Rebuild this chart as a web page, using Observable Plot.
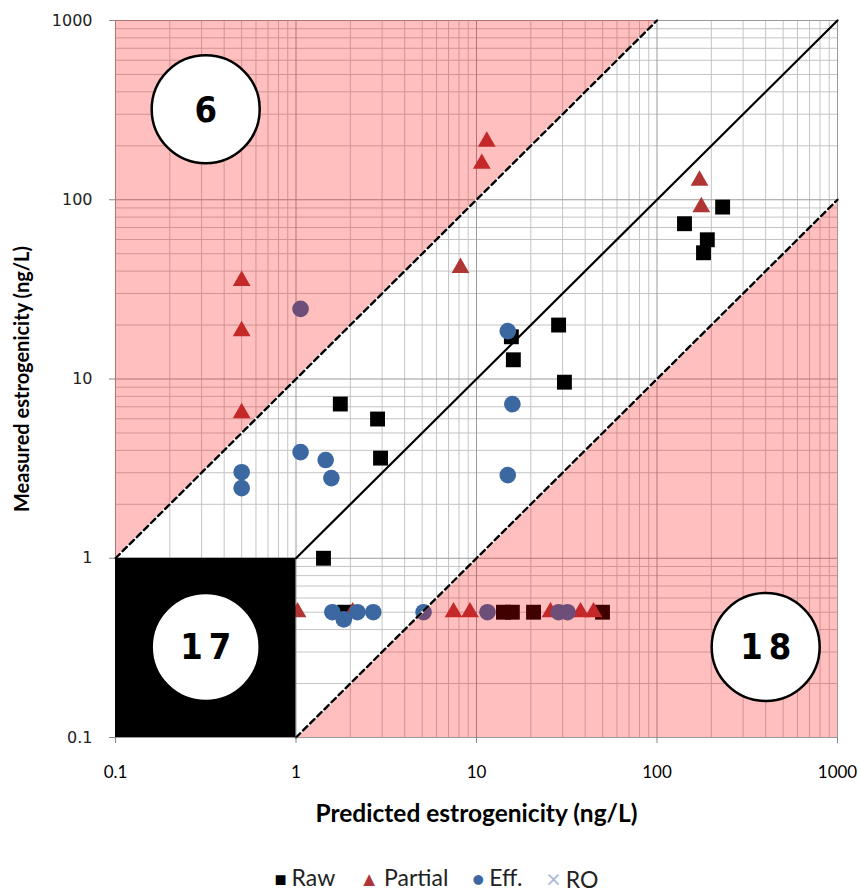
<!DOCTYPE html>
<html>
<head>
<meta charset="utf-8">
<script src="https://cdn.jsdelivr.net/npm/d3@7"></script>
<script src="https://cdn.jsdelivr.net/npm/@observablehq/plot@0.6"></script>
<style>
  body { margin: 0; background: white; }
  #legend { display: flex; justify-content: center; gap: 24px; font-family: Lato, "Open Sans", sans-serif; font-size: 23px; color: #222; padding-left: 12px; margin-top: 8px; }
  #legend span.sym { margin-right: 5px; }
</style>
</head>
<body>
<div id="chart"></div>
<div id="legend"></div>
<script>
// ---- Data ----
const rawX = [1.42, 1.76, 2.83, 2.94, 15.6, 16.0, 28.5, 30.7, 142, 231, 190, 181, 1.86, 14.1, 15.8, 20.7, 49.9];
const rawY = [1.0, 7.25, 5.98, 3.62, 17.2, 12.8, 20.0, 9.6, 73.5, 91, 59.8, 50.6, 0.5, 0.5, 0.5, 0.5, 0.5];

const partialX = [0.5, 0.5, 0.5, 11.4, 10.7, 8.15, 172, 176, 1.02, 2.06, 7.46, 9.2, 25.7, 37.7, 44.5];
const partialY = [35.3, 18.5, 6.46, 211, 159, 41.7, 128, 91, 0.5, 0.5, 0.5, 0.5, 0.5, 0.5, 0.5];

const effX = [1.06, 0.5, 0.5, 1.06, 1.46, 1.57, 14.9, 15.8, 14.9, 1.59, 1.84, 2.19, 2.68, 5.09, 11.5, 28.5, 31.9];
const effY = [24.6, 3.02, 2.46, 3.91, 3.53, 2.80, 18.5, 7.24, 2.91, 0.5, 0.456, 0.5, 0.5, 0.5, 0.5, 0.5, 0.5];

const roX = [];
const roY = [];

const seriesNames = ["Raw", "Partial", "Eff.", "RO"];
const seriesColors = ["#000000", "#b03636", "#3c68a2", "#a9bbd6"];

const countLabels = ["6", "17", "18"];
const countX = [0.316, 0.316, 400];
const countY = [320, 0.32, 0.32];

const tickValues = [0.1, 1, 10, 100, 1000];
const axisDomain = [0.1, 1000];
const foldBand = 10;       // dashed lines at measured = 10x and x/10 predicted
const loqValue = 1;        // black square: both below 1 ng/L

// ---- Derived tables ----
const toRows = (xs, ys) => xs.map((x, i) => ({x, y: ys[i]}));
const raw = toRows(rawX, rawY);
const partial = toRows(partialX, partialY);
const eff = toRows(effX, effY);
const ro = toRows(roX, roY);

const minorGrid = [];
for (let e = -1; e <= 2; e++) for (let m = 2; m <= 9; m++) minorGrid.push(m * Math.pow(10, e));

const [lo, hi] = axisDomain;
const upperRegion = [{x: lo, y1: lo * foldBand, y2: hi}, {x: hi / foldBand, y1: hi, y2: hi}];
const lowerRegion = [{x: lo * foldBand, y1: lo, y2: lo}, {x: hi, y1: lo, y2: hi / foldBand}];
const oneToOne = [{x: loqValue, y: loqValue}, {x: hi, y: hi}];
const upperDash = [{x: lo, y: lo * foldBand}, {x: hi / foldBand, y: hi}];
const lowerDash = [{x: lo * foldBand, y: lo}, {x: hi, y: hi / foldBand}];
const loqBox = [{x1: lo, x2: loqValue, y1: lo, y2: loqValue}];
const counts = countLabels.map((t, i) => ({t, x: countX[i], y: countY[i]}));

const chart = Plot.plot({
  width: 861,
  height: 855,
  marginLeft: 115,
  marginRight: 24,
  marginTop: 20,
  marginBottom: 118,
  x: {type: "log", domain: axisDomain},
  y: {type: "log", domain: axisDomain},
  style: {background: "white"},
  marks: [
    // grid
    Plot.ruleX(minorGrid, {stroke: "#c4c4c4", strokeWidth: 1}),
    Plot.ruleY(minorGrid, {stroke: "#c4c4c4", strokeWidth: 1}),
    Plot.ruleX(tickValues, {stroke: "#9a9a9a", strokeWidth: 1}),
    Plot.ruleY(tickValues, {stroke: "#9a9a9a", strokeWidth: 1}),
    // points
    Plot.dot(raw, {x: "x", y: "y", symbol: "square", r: 8.4, fill: seriesColors[0]}),
    Plot.dot(partial, {x: "x", y: "y", symbol: "triangle", r: 6.6, fill: seriesColors[1]}),
    Plot.dot(eff, {x: "x", y: "y", symbol: "circle", r: 8.3, fill: seriesColors[2]}),
    Plot.dot(ro, {x: "x", y: "y", symbol: "times", r: 6, stroke: seriesColors[3], strokeWidth: 1.5}),
    // translucent pink regions drawn over the points
    Plot.areaY(upperRegion, {x: "x", y1: "y1", y2: "y2", fill: "#ff0000", fillOpacity: 0.25}),
    Plot.areaY(lowerRegion, {x: "x", y1: "y1", y2: "y2", fill: "#ff0000", fillOpacity: 0.25}),
    // lines
    Plot.line(oneToOne, {x: "x", y: "y", stroke: "black", strokeWidth: 2.2}),
    Plot.line(upperDash, {x: "x", y: "y", stroke: "white", strokeWidth: 2.4}),
    Plot.line(upperDash, {x: "x", y: "y", stroke: "black", strokeWidth: 2.4, strokeDasharray: "6,4"}),
    Plot.line(lowerDash, {x: "x", y: "y", stroke: "white", strokeWidth: 2.4}),
    Plot.line(lowerDash, {x: "x", y: "y", stroke: "black", strokeWidth: 2.4, strokeDasharray: "6,4"}),
    // black LOQ square
    Plot.rect(loqBox, {x1: "x1", x2: "x2", y1: "y1", y2: "y2", fill: "black"}),
    // axes
    Plot.axisX(tickValues, {tickFormat: d => String(d), tickSize: 6, tickPadding: 22, stroke: "#888", fill: "black",
      fontSize: 17, fontFamily: "Lato, 'Open Sans', sans-serif", label: null}),
    Plot.axisY(tickValues, {tickFormat: d => String(d), tickSize: 6, tickPadding: 17, stroke: "#888", fill: "#222",
      fontSize: 16, fontFamily: "'DejaVu Sans', Verdana, sans-serif", label: null}),
    Plot.text(["Predicted estrogenicity (ng/L)"], {frameAnchor: "bottom", dy: 84, fontSize: 24.5, fontWeight: "bold",
      fontFamily: "Lato, 'Open Sans', sans-serif", fill: "black"}),
    Plot.text(["Measured estrogenicity (ng/L)"], {frameAnchor: "left", textAnchor: "middle", rotate: -90, dx: -93, fontSize: 20, fontWeight: "bold",
      fontFamily: "Lato, 'Open Sans', sans-serif", fill: "black"}),
    // count circles
    Plot.dot(counts, {x: "x", y: "y", r: 54, fill: "white", stroke: "black", strokeWidth: 2.5}),
    Plot.text(counts, {x: "x", y: "y", text: "t", fontSize: 36, fontWeight: "bold",
      fontFamily: "'DejaVu Sans Condensed', 'Liberation Sans Narrow', sans-serif", fill: "black", dy: 1})
  ]
});
document.getElementById("chart").appendChild(chart);

// letter spacing for the two-digit counts inside the circles, like the reference
d3.select(chart).selectAll("g[aria-label='text'] text")
  .filter(function() { return /^\d\d$/.test(this.textContent); })
  .style("letter-spacing", "6px").attr("dx", 3);

// legend
const legendSymbols = ["■", "▲", "●", "×"];
const legend = document.getElementById("legend");
seriesNames.forEach((name, i) => {
  const item = document.createElement("div");
  const s = document.createElement("span");
  s.className = "sym";
  s.textContent = legendSymbols[i];
  s.style.color = seriesColors[i];
  s.style.fontSize = i === 3 ? "25px" : "20px";
  item.appendChild(s);
  item.appendChild(document.createTextNode(name));
  legend.appendChild(item);
});
</script>
</body>
</html>
